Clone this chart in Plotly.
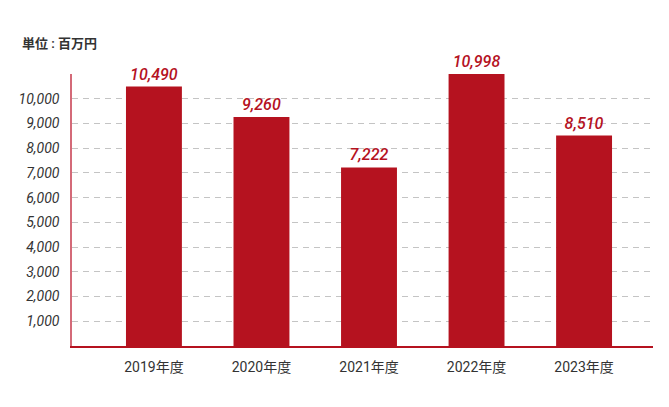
import plotly.graph_objects as go

categories = ["2019年度", "2020年度", "2021年度", "2022年度", "2023年度"]
values = [10490, 9260, 7222, 10998, 8510]
y_tick_vals = [0, 1000, 2000, 3000, 4000, 5000, 6000, 7000, 8000, 9000, 10000, 11000]
y_tick_text = ["", "1,000", "2,000", "3,000", "4,000", "5,000", "6,000", "7,000", "8,000", "9,000", "10,000", ""]
unit_label = "単位 : 百万円"

RED = "#b5121f"
FONT = "Roboto, 'Noto Sans CJK JP', sans-serif"

fig = go.Figure()
fig.add_trace(go.Bar(
    x=categories,
    y=values,
    width=0.52,
    marker=dict(color=RED, line=dict(width=0)),
    text=[f"{v:,}" for v in values],
    textposition="outside",
    textfont=dict(family=FONT, size=16, color=RED, style="italic", weight=500),
    cliponaxis=False,
    hoverinfo="skip",
))

fig.update_layout(
    width=669, height=407,
    margin=dict(l=72, r=16, t=74, b=61),
    paper_bgcolor="white", plot_bgcolor="white",
    showlegend=False,
    font=dict(family=FONT, color="#333333"),
    xaxis=dict(
        type="category",
        range=[-0.762, 4.641],
        showline=True, linecolor=RED, linewidth=2,
        showgrid=False, ticks="",
        tickfont=dict(family=FONT, size=14, color="#333333"),
        ticklabelstandoff=7,
    ),
    yaxis=dict(
        range=[0, 11000],
        tickvals=y_tick_vals, ticktext=y_tick_text,
        showline=True, linecolor="#d46a78", linewidth=1.5,
        showgrid=True, gridcolor="#c4c4c4", gridwidth=1, griddash="6px,5px",
        zeroline=False, ticks="",
        tickfont=dict(family=FONT, size=14, color="#333333", style="italic"),
        ticklabelstandoff=8,
    ),
    annotations=[dict(
        text=unit_label, xref="paper", yref="paper",
        x=(20 - 72) / 581, y=1 + 30 / 272, xanchor="left", yanchor="middle",
        showarrow=False,
        font=dict(family=FONT, size=13, color="#333333", weight=600),
    )],
)

fig.write_html("out.html", config={"displayModeBar": False},
               post_script="document.body.style.margin='0';")
